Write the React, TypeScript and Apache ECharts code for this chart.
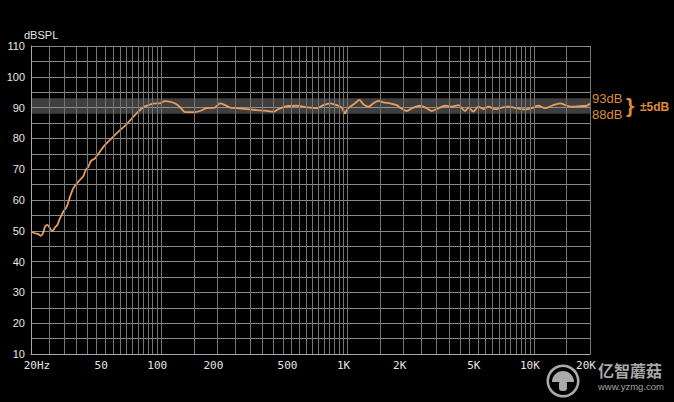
import React, { useEffect, useRef } from "react";
import * as echarts from "echarts";

const freqs = [
  20, 21, 21.9, 22.5, 23.1, 23.8, 24.5, 25.3, 26, 26.9, 27.7, 28.6, 29.8, 31.1, 32.4, 33.7, 35.2, 36.6, 38.2,
  39.3, 40.6, 42, 44.1, 46.9, 49.9, 53.1, 57.7, 62.6, 66.6, 70.8, 75.3, 80.1, 85.2, 90.7, 98.5, 101.8, 104.8,
  111.5, 121, 129, 134, 149, 161.5, 175, 194, 207, 220, 234, 254, 288, 325, 361, 400, 425, 472, 534, 604, 683,
  741, 805, 875, 931, 969, 990, 1031, 1097, 1157, 1215, 1293, 1376, 1463, 1556, 1691, 1837, 1913, 2078, 2255,
  2449, 2661, 2830, 3071, 3336, 3624, 3934, 4273, 4450, 4733, 5035, 5356, 5697, 6190, 6725, 7295, 8094, 8970,
  9740, 10568, 11482, 12474, 13821, 15015, 16291, 17700, 19224, 20000,
];
const spl = [
  49.7, 49.2, 48.9, 48.4, 49.0, 51.3, 51.9, 50.8, 49.9, 51.1, 51.9, 54.0, 56.2, 57.8, 61.1, 63.8, 65.4, 66.5, 67.8,
  69.7, 70.8, 72.7, 73.5, 75.7, 77.9, 79.5, 81.7, 83.6, 85.2, 87.0, 88.7, 90.1, 90.8, 91.3, 91.4, 91.9, 92.1,
  91.9, 91.1, 89.5, 88.5, 88.5, 88.9, 89.8, 90.0, 91.4, 90.8, 90.0, 89.8, 89.5, 89.2, 89.0, 88.7, 89.5, 90.5, 90.6, 90.1, 89.8,
  90.8, 91.4, 90.8, 90.0, 88.1, 89.2, 90.3, 91.4, 92.5, 91.1, 90.3, 91.4, 92.2, 91.7, 91.4, 90.8, 90.0, 88.9, 90.0,
  90.6, 89.8, 88.9, 89.8, 90.6, 90.3, 90.8, 88.9, 90.0, 88.7, 90.3, 89.5, 90.3, 89.5, 90.0, 90.3, 89.8, 89.4,
  89.8, 90.6, 89.8, 90.6, 91.4, 90.6, 90.3, 90.5, 90.6, 91.4,
];
const xTickValues = [20, 50, 100, 200, 500, 1000, 2000, 5000, 10000, 20000];
const xTickLabels = ["20Hz", "50", "100", "200", "500", "1K", "2K", "5K", "10K", "20K"];
const bandLow = 88;
const bandHigh = 93;
const bandLabels = ["93dB", "88dB", "±5dB"];

const gridFreqs: number[] = [];
[10, 100, 1000, 10000].forEach((d) => {
  for (let m = 1; m < 10; m += 0.5) {
    const f = m * d;
    if (f > 20 && f <= 20000) gridFreqs.push(f);
  }
});
gridFreqs.push(20000);

export default function App() {
  const ref = useRef<HTMLDivElement>(null);
  useEffect(() => {
    document.body.style.margin = "0";
    document.body.style.background = "#000";
    const chart = echarts.init(ref.current!, null, { renderer: "svg" });
    const orange = "#de8b3a";
    const lbl = { color: "#e6e6e6", fontFamily: "DejaVu Sans Mono", fontSize: 11 };
    chart.setOption({
      animation: false,
      backgroundColor: "#000",
      grid: { left: 31, right: 84, top: 46, bottom: 48 },
      xAxis: {
        type: "log",
        logBase: 10,
        min: 20,
        max: 20000,
        axisLine: { show: true, lineStyle: { color: "#aaa", width: 1 } },
        axisTick: { show: false },
        splitLine: { show: false },
        axisLabel: {
          customValues: xTickValues,
          ...lbl,
          margin: 6,
          padding: [0, 8, 0, 0],
          showMinLabel: true,
          showMaxLabel: true,
          rich: {
            first: { ...lbl, padding: [0, 0, 0, 20] },
            n: { ...lbl },
          },
          formatter: (v: number) => {
            const i = xTickValues.findIndex((t) => Math.abs(t - v) / t < 1e-6);
            if (i < 0) return "";
            return i === 0 ? `{first|${xTickLabels[i]}}` : `{n|${xTickLabels[i]}}`;
          },
        },
      },
      yAxis: {
        type: "value",
        min: 10,
        max: 110,
        interval: 10,
        name: "dBSPL",
        nameLocation: "end",
        nameGap: 5,
        nameTextStyle: { color: "#e6e6e6", fontFamily: "Liberation Sans", fontSize: 11, align: "left", padding: [0, 0, 0, -7] },
        axisLine: { show: true, lineStyle: { color: "#aaa" } },
        axisTick: { show: false },
        axisLabel: { color: "#e6e6e6", fontFamily: "Liberation Sans", fontSize: 11, margin: 6 },
        splitLine: { show: true, lineStyle: { color: "#8a8a8a", width: 1 } },
        minorTick: { show: false, splitNumber: 2 },
        minorSplitLine: { show: true, lineStyle: { color: "#8a8a8a", width: 1 } },
      },
      series: [
        {
          type: "line",
          data: [],
          silent: true,
          z: 1,
          markLine: {
            silent: true,
            symbol: "none",
            label: { show: false },
            lineStyle: { color: "#757575", width: 1, type: "solid" },
            data: gridFreqs.map((f) => ({ xAxis: f })),
          },
          markArea: {
            silent: true,
            itemStyle: { color: "rgba(150,150,150,0.42)" },
            data: [[{ yAxis: bandLow }, { yAxis: bandHigh }]],
          },
        },
        {
          type: "line",
          z: 3,
          data: freqs.map((f, i) => [f, spl[i]]),
          showSymbol: false,
          smooth: 0.3,
          lineStyle: { color: "#e99d5c", width: 1.8 },
        },
      ],
      graphic: [
        { type: "text", left: 592, top: 92, style: { text: bandLabels[0], fill: orange, font: "13px 'Liberation Sans'" } },
        { type: "text", left: 592, top: 108, style: { text: bandLabels[1], fill: orange, font: "13px 'Liberation Sans'" } },
        { type: "text", left: 626, top: 95, style: { text: "}", fill: orange, font: "bold 21px 'Liberation Sans'" } },
        { type: "text", left: 640, top: 101, style: { text: bandLabels[2], fill: orange, font: "bold 12px 'Liberation Sans'" } },
        { type: "ring", shape: { cx: 563, cy: 381, r: 16.5, r0: 14 }, style: { fill: "#aaa" } },
        { type: "sector", shape: { cx: 563, cy: 382, r: 11, r0: 0, startAngle: Math.PI, endAngle: Math.PI * 2 }, style: { fill: "#aaa" } },
        { type: "rect", shape: { x: 559, y: 381, width: 8, height: 10, r: 3 }, style: { fill: "#aaa" } },
        { type: "text", left: 598, top: 362, style: { text: "亿智蘑菇", fill: "#a8a8a8", font: "bold 16px 'Noto Sans CJK SC'" } },
        { type: "text", left: 598, top: 381, style: { text: "www.yzmg.com", fill: "#a0a0a0", font: "9.5px 'Liberation Sans'" } },
      ],
    });
    return () => chart.dispose();
  }, []);
  return <div ref={ref} style={{ position: "absolute", left: 0, top: 0, width: 674, height: 402, background: "#000" }} />;
}
